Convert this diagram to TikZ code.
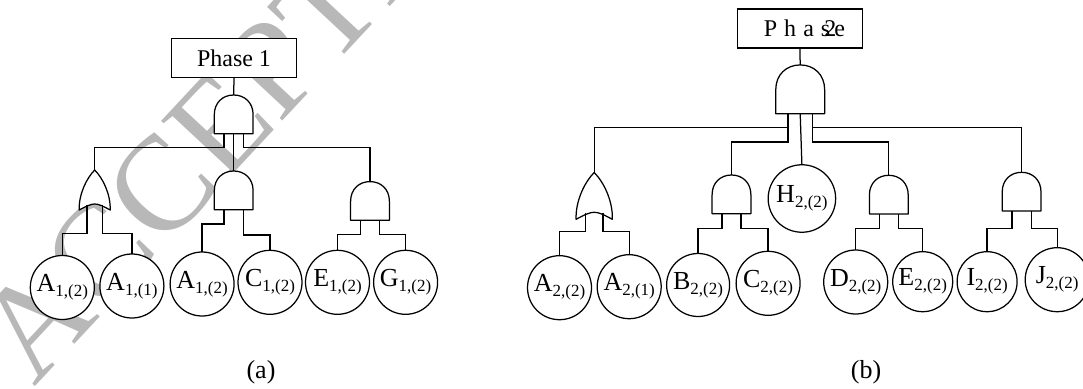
\documentclass[tikz,border=0pt]{standalone}
\usepackage{fontspec}
\setmainfont{Liberation Serif}
\usepackage{xcolor}
\usetikzlibrary{calc}
\definecolor{stamp}{HTML}{B8B8B8}
\newcommand{\leaflab}[2]{\makebox[0pt]{\raisebox{-5pt}{\fontsize{26}{26}\selectfont #1\raisebox{-5pt}{\fontsize{17}{17}\selectfont #2}}}}
\tikzset{
  wire/.style={draw=black, line width=1.25pt},
  gate/.style={draw=black, fill=white, line width=1.25pt, line join=round},
  leaf/.style={circle, draw=black, fill=white, line width=1.25pt, inner sep=0pt, outer sep=0pt, minimum size=#1},
  leaf/.default=64pt,
  phasebox/.style={draw=black, fill=white, line width=1.25pt, inner sep=0pt, outer sep=0pt, minimum width=124.5pt, minimum height=39pt, font=\fontsize{24}{24}\selectfont},
  subcap/.style={font=\fontsize{26}{26}\selectfont},
  andg/.pic={
    \path[gate] (-19.4,0) -- (-19.4,-19) .. controls (-19.4,-31) and (-11,-38.7) .. (0,-38.7)
      .. controls (11,-38.7) and (19.4,-31) .. (19.4,-19) -- (19.4,0) -- cycle;
    \coordinate (-top) at (0,-38.7);
    \coordinate (-l) at (-9.6,0);
    \coordinate (-m) at (0,0);
    \coordinate (-r) at (9.6,0);
  },
  org/.pic={
    \path[gate] (-15.5,0) .. controls (-16,-16) and (-8,-32) .. (0,-40)
      .. controls (8,-32) and (16,-16) .. (15.5,0)
      .. controls (8,-4) and (4,-6) .. (0,-6)
      .. controls (-4,-6) and (-8,-4) .. cycle;
    \coordinate (-top) at (0,-40);
    \coordinate (-l) at (-7.6,-5.5);
    \coordinate (-r) at (7.6,-5.5);
  },
}
\begin{document}
\begin{tikzpicture}[x=1pt,y=-1pt]
  \useasboundingbox (0,0) rectangle (1083,388);
  \node[rotate=47, anchor=base west, text=stamp, inner sep=0pt, font=\fontsize{135}{135}\selectfont] at (34,388) {ACCEPTED};

  % (a)
  \node[phasebox] (pha) at (234,58.2) {Phase 1};
  \pic (gaz) at (233.7,133.7) {andg};
  \pic (gao) at (94.7,210) {org};
  \pic (gam) at (233.7,209.7) {andg};
  \pic (gar) at (370,220.3) {andg};
  \node[leaf] (ca1) at (62.3,287.5) {\leaflab{A}{1,(2)}};
  \node[leaf] (ca2) at (131.9,286) {\leaflab{A}{1,(1)}};
  \node[leaf] (ca3) at (202.1,284) {\leaflab{A}{1,(2)}};
  \node[leaf] (ca4) at (270,282.3) {\leaflab{C}{1,(2)}};
  \node[leaf] (ca5) at (337.5,282.3) {\leaflab{E}{1,(2)}};
  \node[leaf] (ca6) at (405.6,282.3) {\leaflab{G}{1,(2)}};
  \draw[wire] (pha.south) -- (gaz-top);
  \draw[wire] (gaz-l) -- ++(0,14) -| (gao-top);
  \draw[wire] (gaz-m) -- (gam-top);
  \draw[wire] (gaz-r) -- ++(0,14) -| (gar-top);
  \draw[wire] (gao-l) |- ($(ca1.north)+(0,-21.7)$) -- (ca1.north);
  \draw[wire] (gao-r) |- ($(ca2.north)+(0,-20.7)$) -- (ca2.north);
  \draw[wire] (gam-l) -- ++(0,14.3) -| (ca3.north);
  \draw[wire] (gam-r) -- ++(0,25.3) -| (ca4.north);
  \draw[wire] (gar-l) -- ++(0,14.4) -| (ca5.north);
  \draw[wire] (gar-r) -- ++(0,14.4) -| (ca6.north);
  \node[subcap] (capa) at (261,372) {(a)};

  % (b)
  \node[phasebox] (phb) at (799.9,28.5) {\hspace{9pt}P\kern7pt h\kern7pt a\kern7pt s\kern-6pt 2\kern-2pt e};
  \pic[scale=1.26] (gbz) at (800.2,113.7) {andg};
  \pic[scale=1.17] (gbo) at (594.2,219.3) {org};
  \pic (gbp) at (731.5,213.7) {andg};
  \pic (gbq) at (888.8,214) {andg};
  \pic (gbr) at (1021.6,211) {andg};
  \node[leaf] (cb1) at (559.5,287.7) {\leaflab{A}{2,(2)}};
  \node[leaf] (cb2) at (629.2,286.7) {\leaflab{A}{2,(1)}};
  \node[leaf=63pt] (cb3) at (698.1,285) {\leaflab{B}{2,(2)}};
  \node[leaf] (cb4) at (768.1,283.3) {\leaflab{C}{2,(2)}};
  \node[leaf=67.5pt] (cbh) at (801.9,198.5) {\leaflab{H}{2,(2)}};
  \node[leaf] (cb5) at (855.7,282) {\leaflab{D}{2,(2)}};
  \node[leaf=60pt] (cb6) at (922.7,281.7) {\leaflab{E}{2,(2)}};
  \node[leaf=60pt] (cb7) at (987.1,281.7) {\leaflab{I}{2,(2)}};
  \node[leaf] (cb8) at (1057.2,279.7) {\leaflab{J}{2,(2)}};
  \draw[wire] (phb.south) -- (gbz-top);
  \draw[wire] (gbz-l) -- ++(0,14) -| (gbo-top);
  \draw[wire] (gbz-l) -- ++(0,28.3) -| (gbp-top);
  \draw[wire] (gbz-m) -- (cbh.north);
  \draw[wire] (gbz-r) -- ++(0,28.3) -| (gbq-top);
  \draw[wire] (gbz-r) -- ++(0,14) -| (gbr-top);
  \draw[wire] (gbo-l) |- ($(cb1.north)+(0,-24)$) -- (cb1.north);
  \draw[wire] (gbo-r) |- ($(cb2.north)+(0,-23)$) -- (cb2.north);
  \draw[wire] (gbp-l) -- ++(0,14.6) -| (cb3.north);
  \draw[wire] (gbp-r) -- ++(0,14.6) -| (cb4.north);
  \draw[wire] (gbq-l) -- ++(0,14.3) -| (cb5.north);
  \draw[wire] (gbq-r) -- ++(0,14.3) -| (cb6.north);
  \draw[wire] (gbr-l) -- ++(0,17.3) -| (cb7.north);
  \draw[wire] (gbr-r) -- ++(0,17.3) -| (cb8.north);
  \node[subcap] (capb) at (866,372) {(b)};
\end{tikzpicture}
\end{document}
